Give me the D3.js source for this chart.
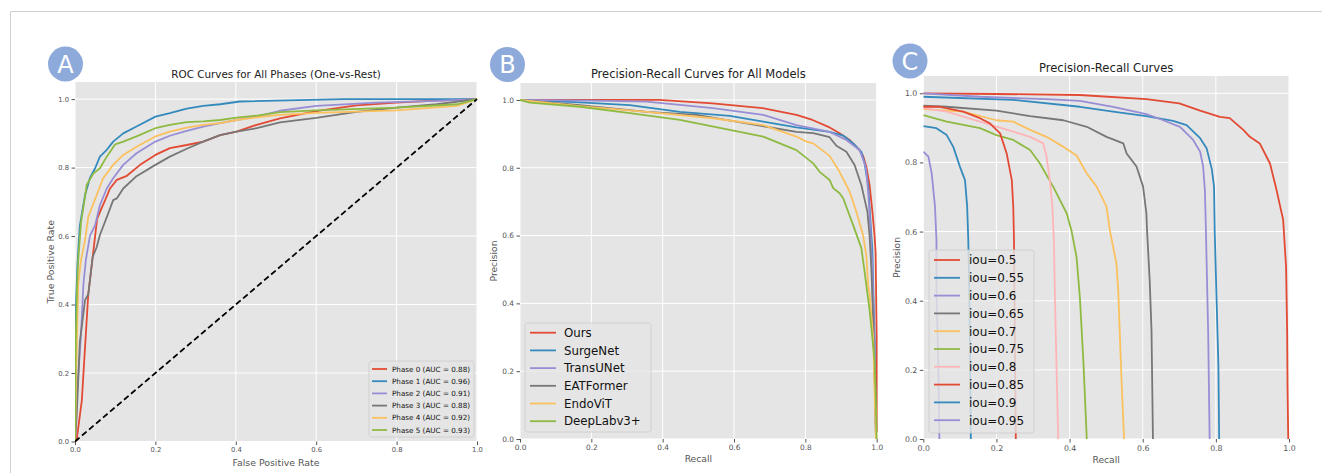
<!DOCTYPE html>
<html>
<head>
<meta charset="utf-8">
<script src="https://cdn.jsdelivr.net/npm/d3@7"></script>
<style>
  body { margin: 0; background: #fff; }
  svg { display: block; font-family: "DejaVu Sans", sans-serif; }
  .tick text { fill: #555555; }
  .tick line { stroke: #555555; }
</style>
</head>
<body>
<svg id="fig" width="1322" height="473"></svg>
<script>
// ---- data: panel A (ROC, fpr/tpr pairs) ----
let rocNames = ["Phase 0 (AUC = 0.88)", "Phase 1 (AUC = 0.96)", "Phase 2 (AUC = 0.91)",
                "Phase 3 (AUC = 0.88)", "Phase 4 (AUC = 0.92)", "Phase 5 (AUC = 0.93)"]
let phase0 = [[0,0],[0.004,0.003],[0.017,0.12],[0.025,0.276],[0.033,0.43],[0.046,0.559],[0.055,0.65],[0.066,0.681],[0.075,0.705],[0.087,0.739],[0.104,0.764],[0.129,0.776],[0.162,0.808],[0.2,0.837],[0.236,0.857],[0.278,0.866],[0.319,0.876],[0.361,0.895],[0.402,0.905],[0.452,0.925],[0.51,0.944],[0.6,0.965],[0.7,0.982],[0.8,0.99],[0.9,0.996],[1,1]]
let phase1 = [[0,0],[0,0.3],[0.003,0.42],[0.006,0.515],[0.012,0.63],[0.025,0.72],[0.037,0.769],[0.05,0.798],[0.062,0.832],[0.079,0.852],[0.095,0.876],[0.12,0.9],[0.153,0.92],[0.2,0.949],[0.236,0.959],[0.278,0.972],[0.319,0.98],[0.361,0.985],[0.41,0.993],[0.67,1],[1,1]]
let phase2 = [[0,0],[0.004,0.12],[0.015,0.316],[0.021,0.46],[0.027,0.53],[0.037,0.6],[0.05,0.632],[0.062,0.69],[0.079,0.739],[0.095,0.769],[0.12,0.808],[0.153,0.842],[0.2,0.876],[0.236,0.893],[0.278,0.907],[0.319,0.92],[0.361,0.93],[0.402,0.939],[0.452,0.949],[0.51,0.966],[0.6,0.98],[0.75,0.99],[0.9,0.995],[1,1]]
let phase3 = [[0,0],[0.004,0.07],[0.012,0.29],[0.025,0.413],[0.033,0.43],[0.044,0.539],[0.054,0.568],[0.062,0.603],[0.079,0.655],[0.095,0.705],[0.104,0.71],[0.12,0.739],[0.153,0.775],[0.2,0.808],[0.236,0.832],[0.278,0.855],[0.319,0.876],[0.361,0.895],[0.402,0.905],[0.452,0.915],[0.51,0.932],[0.6,0.945],[0.7,0.963],[0.8,0.975],[0.9,0.985],[1,1]]
let phase4 = [[0,0],[0.003,0.2],[0.008,0.46],[0.015,0.53],[0.025,0.588],[0.033,0.656],[0.054,0.72],[0.07,0.769],[0.095,0.808],[0.12,0.837],[0.153,0.861],[0.2,0.891],[0.236,0.905],[0.278,0.917],[0.319,0.925],[0.361,0.93],[0.402,0.939],[0.452,0.947],[0.51,0.954],[0.6,0.96],[0.8,0.967],[0.95,0.98],[1,1]]
let phase5 = [[0,0],[0.002,0.3],[0.005,0.45],[0.008,0.53],[0.015,0.64],[0.025,0.715],[0.029,0.749],[0.046,0.783],[0.062,0.798],[0.079,0.832],[0.1,0.868],[0.12,0.876],[0.153,0.891],[0.2,0.915],[0.236,0.925],[0.278,0.933],[0.319,0.935],[0.361,0.939],[0.402,0.946],[0.452,0.952],[0.51,0.962],[0.6,0.967],[0.8,0.975],[0.95,0.985],[1,1]]
let chanceLine = [[0,0],[1,1]]

// ---- data: panel B (recall/precision pairs per model) ----
let modelNames = ["Ours", "SurgeNet", "TransUNet", "EATFormer", "EndoViT", "DeepLabv3+"]
let ours = [[0,1],[0.2,1],[0.39,1],[0.54,0.99],[0.68,0.976],[0.775,0.956],[0.82,0.941],[0.868,0.919],[0.896,0.902],[0.924,0.882],[0.952,0.852],[0.962,0.835],[0.971,0.803],[0.98,0.749],[0.988,0.67],[0.994,0.6],[0.997,0.55],[1,0.3],[1,0.02]]
let surgeNet = [[0,1],[0.05,0.998],[0.168,0.993],[0.308,0.985],[0.448,0.965],[0.588,0.953],[0.682,0.936],[0.775,0.919],[0.868,0.906],[0.906,0.895],[0.934,0.872],[0.957,0.847],[0.966,0.813],[0.976,0.749],[0.982,0.651],[0.988,0.553],[0.99,0.454],[0.994,0.3],[0.997,0.1],[0.998,0]]
let transUNet = [[0,1],[0.2,0.998],[0.355,0.995],[0.541,0.976],[0.682,0.956],[0.775,0.926],[0.868,0.906],[0.915,0.882],[0.952,0.852],[0.966,0.813],[0.97,0.798],[0.976,0.73],[0.982,0.63],[0.988,0.5],[0.993,0.3],[0.996,0.1],[0.998,0]]
let eatFormer = [[0,1],[0.168,0.985],[0.355,0.965],[0.495,0.956],[0.635,0.931],[0.775,0.906],[0.822,0.902],[0.868,0.89],[0.887,0.865],[0.915,0.847],[0.938,0.808],[0.957,0.749],[0.974,0.67],[0.98,0.6],[0.985,0.503],[0.99,0.35],[0.995,0.15],[0.998,0]]
let endoViT = [[0,1],[0.168,0.982],[0.355,0.965],[0.541,0.946],[0.682,0.926],[0.775,0.892],[0.803,0.877],[0.822,0.872],[0.868,0.835],[0.896,0.788],[0.924,0.73],[0.943,0.67],[0.962,0.6],[0.971,0.54],[0.976,0.454],[0.98,0.43],[0.99,0.3],[0.995,0.1],[0.998,0]]
let deepLab = [[0,1],[0.028,0.992],[0.168,0.98],[0.308,0.961],[0.448,0.941],[0.588,0.912],[0.682,0.892],[0.775,0.852],[0.822,0.813],[0.84,0.788],[0.868,0.764],[0.878,0.74],[0.896,0.725],[0.906,0.71],[0.934,0.631],[0.957,0.563],[0.966,0.494],[0.98,0.38],[0.994,0.233],[0.998,0.1],[1,0]]

// ---- data: panel C (recall/precision pairs per IoU threshold) ----
let iouNames = ["iou=0.5", "iou=0.55", "iou=0.6", "iou=0.65", "iou=0.7", "iou=0.75", "iou=0.8", "iou=0.85", "iou=0.9", "iou=0.95"]
let iou50 = [[0,1],[0.2,0.998],[0.428,0.995],[0.61,0.983],[0.7,0.971],[0.757,0.95],[0.811,0.932],[0.838,0.928],[0.875,0.894],[0.893,0.874],[0.92,0.855],[0.948,0.797],[0.966,0.72],[0.984,0.634],[0.992,0.498],[0.995,0.306],[0.996,0.15],[0.998,0]]
let iou55 = [[0,0.99],[0.246,0.981],[0.428,0.961],[0.519,0.947],[0.61,0.934],[0.683,0.92],[0.72,0.908],[0.757,0.87],[0.775,0.84],[0.789,0.78],[0.795,0.73],[0.797,0.595],[0.802,0.402],[0.807,0.209],[0.809,0]]
let iou60 = [[0,1],[0.155,0.99],[0.337,0.983],[0.428,0.978],[0.519,0.961],[0.61,0.94],[0.656,0.922],[0.702,0.903],[0.738,0.865],[0.757,0.831],[0.765,0.79],[0.77,0.72],[0.773,0.595],[0.779,0.306],[0.783,0]]
let iou65 = [[0,0.964],[0.064,0.961],[0.2,0.95],[0.292,0.934],[0.383,0.922],[0.447,0.903],[0.501,0.874],[0.547,0.855],[0.556,0.826],[0.583,0.788],[0.601,0.73],[0.61,0.653],[0.612,0.6],[0.619,0.46],[0.624,0.315],[0.628,0]]
let iou70 = [[0,0.954],[0.109,0.947],[0.2,0.922],[0.246,0.918],[0.292,0.894],[0.337,0.874],[0.383,0.845],[0.419,0.82],[0.447,0.768],[0.474,0.73],[0.501,0.672],[0.51,0.604],[0.528,0.508],[0.533,0.431],[0.537,0.315],[0.542,0.171],[0.549,0]]
let iou75 = [[0,0.937],[0.064,0.918],[0.155,0.899],[0.2,0.879],[0.246,0.865],[0.292,0.836],[0.319,0.797],[0.355,0.73],[0.392,0.653],[0.405,0.604],[0.419,0.527],[0.428,0.412],[0.438,0.219],[0.447,0]]
let iou80 = [[0,0.957],[0.064,0.947],[0.155,0.918],[0.246,0.889],[0.292,0.874],[0.328,0.855],[0.337,0.817],[0.346,0.749],[0.353,0.672],[0.357,0.576],[0.36,0.412],[0.364,0.219],[0.369,0]]
let iou85 = [[0,0.961],[0.045,0.961],[0.109,0.947],[0.155,0.928],[0.182,0.913],[0.21,0.884],[0.228,0.826],[0.242,0.749],[0.246,0.672],[0.248,0.576],[0.249,0.46],[0.251,0.219],[0.253,0]]
let iou90 = [[0,0.905],[0.036,0.899],[0.064,0.879],[0.082,0.845],[0.1,0.788],[0.114,0.749],[0.12,0.672],[0.123,0.576],[0.126,0.412],[0.128,0.219],[0.13,0]]
let iou95 = [[0,0.831],[0.014,0.817],[0.023,0.768],[0.032,0.672],[0.036,0.576],[0.036,0.412],[0.041,0.219],[0.044,0]]

let tickValues = [0, 0.2, 0.4, 0.6, 0.8, 1.0]
let ggColors = ["#E24A33", "#348ABD", "#988ED5", "#777777", "#FBC15E", "#8EBA42", "#FFB5B8"]

let svg = d3.select("#fig")

// light frame around the whole figure
svg.append("path")
    .attr("d", "M10.5 473 L10.5 11.5 L1322 11.5")
    .attr("fill", "none")
    .attr("stroke", "#cfcfcf")

function drawPanel(p){
    let g = svg.append("g")
    let x = d3.scaleLinear().domain([0, 1]).range([p.left, p.right])
    let y = d3.scaleLinear().domain([0, 1.05]).range([p.bottom, p.top])

    g.append("rect")
        .attr("x", p.left).attr("y", p.top)
        .attr("width", p.right - p.left).attr("height", p.bottom - p.top)
        .attr("fill", "#E5E5E5")

    // grid
    g.selectAll(".vgrid").data(tickValues).join("line")
        .attr("x1", d => x(d)).attr("x2", d => x(d))
        .attr("y1", p.top).attr("y2", p.bottom)
        .attr("stroke", "#fff").attr("stroke-width", 1)
    g.selectAll(".hgrid").data(tickValues).join("line")
        .attr("y1", d => y(d)).attr("y2", d => y(d))
        .attr("x1", p.left).attr("x2", p.right)
        .attr("stroke", "#fff").attr("stroke-width", 1)

    let xAxis = g.append("g")
        .attr("transform", `translate(0,${p.bottom})`)
        .call(d3.axisBottom(x).tickValues(tickValues).tickFormat(d3.format(".1f")).tickSize(3.5).tickPadding(2.5))
    let yAxis = g.append("g")
        .attr("transform", `translate(${p.left},0)`)
        .call(d3.axisLeft(y).tickValues(tickValues).tickFormat(d3.format(".1f")).tickSize(3.5).tickPadding(2.5))
    for (let a of [xAxis, yAxis]){
        a.select(".domain").remove()
        a.attr("font-family", null).attr("font-size", p.tickSize)
    }

    let clipId = "clip" + p.id
    g.append("clipPath").attr("id", clipId)
        .append("rect")
        .attr("x", p.left).attr("y", p.top - 2)
        .attr("width", p.right - p.left + 2).attr("height", p.bottom - p.top + 3)

    let line = d3.line().x(d => x(d[0])).y(d => y(d[1]))
    let lines = g.append("g").attr("clip-path", `url(#${clipId})`)
    p.series.forEach((s, i) => {
        lines.append("path")
            .attr("d", line(s))
            .attr("fill", "none")
            .attr("stroke", p.colors[i])
            .attr("stroke-width", 1.8)
            .attr("stroke-linejoin", "round")
    })
    if (p.extra) p.extra(lines, line)

    // title and axis labels
    g.append("text")
        .attr("x", (p.left + p.right) / 2).attr("y", p.titleY)
        .attr("text-anchor", "middle")
        .attr("font-size", p.titleSize)
        .attr("fill", "#222")
        .text(p.title)
    g.append("text")
        .attr("x", (p.left + p.right) / 2).attr("y", p.xLabelY)
        .attr("text-anchor", "middle")
        .attr("font-size", p.labelSize)
        .attr("fill", "#555555")
        .text(p.xLabel)
    g.append("text")
        .attr("transform", `translate(${p.yLabelX},${(p.top + p.bottom) / 2}) rotate(-90)`)
        .attr("text-anchor", "middle")
        .attr("font-size", p.labelSize)
        .attr("fill", "#555555")
        .text(p.yLabel)

    // legend
    let L = p.legend
    let lg = g.append("g")
    lg.append("rect")
        .attr("x", L.x).attr("y", L.y)
        .attr("width", L.w).attr("height", L.h)
        .attr("rx", 2.5)
        .attr("fill", "#E5E5E5").attr("fill-opacity", 0.8)
        .attr("stroke", "#cccccc").attr("stroke-width", 0.8)
    p.names.forEach((n, i) => {
        let cy = L.firstRow + i * L.step
        lg.append("line")
            .attr("x1", L.lineX).attr("x2", L.lineX + L.lineW)
            .attr("y1", cy).attr("y2", cy)
            .attr("stroke", p.colors[i]).attr("stroke-width", 1.8)
        lg.append("text")
            .attr("x", L.textX).attr("y", cy)
            .attr("dy", "0.36em")
            .attr("font-size", L.fontSize)
            .attr("fill", "#111")
            .text(n)
    })

    // badge
    g.append("circle")
        .attr("cx", p.badge[0]).attr("cy", p.badge[1]).attr("r", 17.5)
        .attr("fill", "#8EAADB")
    g.append("text")
        .attr("x", p.badge[0]).attr("y", p.badge[1])
        .attr("dy", "0.36em")
        .attr("text-anchor", "middle")
        .attr("font-size", 24)
        .attr("fill", "#fff")
        .text(p.id)
}

drawPanel({
    id: "A", left: 75, right: 477, top: 82, bottom: 441.5,
    series: [phase0, phase1, phase2, phase3, phase4, phase5],
    colors: ggColors.slice(0, 6), names: rocNames,
    title: "ROC Curves for All Phases (One-vs-Rest)", titleY: 77.5, titleSize: 10.4,
    xLabel: "False Positive Rate", xLabelY: 466, yLabel: "True Positive Rate", yLabelX: 54,
    labelSize: 9.4, tickSize: 6.8, badge: [65.5, 64],
    legend: {x: 369, y: 361, w: 105, h: 76, firstRow: 369, step: 12.2, lineX: 372, lineW: 15, textX: 392, fontSize: 7.2},
    extra: (lines, line) => {
        lines.append("path")
            .attr("d", line(chanceLine))
            .attr("fill", "none")
            .attr("stroke", "#000")
            .attr("stroke-width", 1.8)
            .attr("stroke-dasharray", "6,3.2")
    }
})

drawPanel({
    id: "B", left: 520, right: 876.7, top: 83, bottom: 439,
    series: [ours, surgeNet, transUNet, eatFormer, endoViT, deepLab],
    colors: ggColors.slice(0, 6), names: modelNames,
    title: "Precision-Recall Curves for All Models", titleY: 77.5, titleSize: 11.5,
    xLabel: "Recall", xLabelY: 462, yLabel: "Precision", yLabelX: 497,
    labelSize: 9.2, tickSize: 7.4, badge: [507.5, 64.5],
    legend: {x: 525, y: 323, w: 126, h: 109, firstRow: 332.7, step: 17.7, lineX: 530, lineW: 26, textX: 564, fontSize: 11.8}
})

drawPanel({
    id: "C", left: 923.3, right: 1289, top: 76, bottom: 439,
    series: [iou50, iou55, iou60, iou65, iou70, iou75, iou80, iou85, iou90, iou95],
    colors: ggColors.concat(ggColors.slice(0, 3)), names: iouNames,
    title: "Precision-Recall Curves", titleY: 72, titleSize: 11.6,
    xLabel: "Recall", xLabelY: 463, yLabel: "Precision", yLabelX: 900,
    labelSize: 9.2, tickSize: 7.8, badge: [910, 61],
    legend: {x: 929, y: 250, w: 105, h: 183, firstRow: 260, step: 17.8, lineX: 934, lineW: 26, textX: 969, fontSize: 12}
})
</script>
</body>
</html>
